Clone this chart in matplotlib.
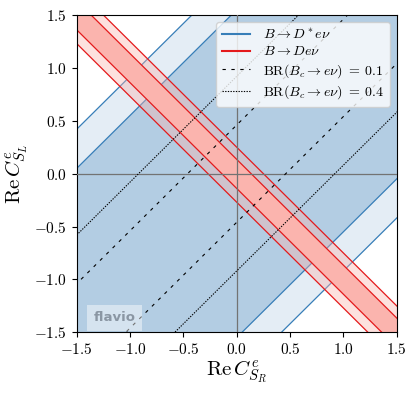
import numpy as np
import matplotlib
matplotlib.use("Agg")
import matplotlib.pyplot as plt
from matplotlib.lines import Line2D

plt.rcParams['font.family'] = 'serif'
plt.rcParams['font.serif'] = ['cmr10']
plt.rcParams['mathtext.fontset'] = 'cm'
plt.rcParams['axes.formatter.use_mathtext'] = True

# band edges
# B -> D* e nu : constraint on C_SL - C_SR
dstar_1sigma = [-1.55, 1.55]
dstar_2sigma = [-1.92, 1.92]
# B -> D e nu : constraint on C_SL + C_SR
d_1sigma = [-0.14, 0.135]
d_2sigma = [-0.27, 0.25]
# BR(Bc -> e nu) contours, value of |C_SL - C_SR|
bc_br = [0.1, 0.4]
bc_diff = [0.46, 0.92]
bc_styles = [(0, (3, 5)), (0, (1.2, 1.2))]

ticks = [-1.5, -1.0, -0.5, 0.0, 0.5, 1.0, 1.5]

blue_line, blue_fill = '#377eb8', '#b3cde3'
red_line, red_fill = '#e41a1c', '#fbb4ae'

fig = plt.figure(figsize=(4.16, 3.93), dpi=100)
ax = fig.add_axes([0.1844, 0.1545, 0.7692, 0.8073])

x = np.linspace(-3.5, 3.5, 701)

# B -> D* e nu (slope +1 band)
ax.fill_between(x, x + dstar_2sigma[0], x + dstar_2sigma[1], color=blue_fill, alpha=0.35, lw=0, zorder=1)
ax.fill_between(x, x + dstar_1sigma[0], x + dstar_1sigma[1], color=blue_fill, lw=0, zorder=1)
for c in dstar_1sigma + dstar_2sigma:
    ax.plot(x, x + c, color=blue_line, lw=0.9, zorder=1.5)

# B -> D e nu (slope -1 band)
ax.fill_between(x, -x + d_2sigma[0], -x + d_2sigma[1], color=red_fill, alpha=0.4, lw=0, zorder=2)
ax.fill_between(x, -x + d_1sigma[0], -x + d_1sigma[1], color=red_fill, lw=0, zorder=2)
for c in d_1sigma + d_2sigma:
    ax.plot(x, -x + c, color=red_line, lw=0.9, zorder=2.5)

ax.axhline(0, color='0.45', lw=0.9, zorder=3)
ax.axvline(0, color='0.45', lw=0.9, zorder=3)

# Bc -> e nu contours
for d, ls in zip(bc_diff, bc_styles):
    for sgn in (1, -1):
        ax.plot(x, x + sgn * d, color='k', lw=0.8, ls=ls, zorder=4)

ax.set_xlim(-1.5, 1.5)
ax.set_ylim(-1.5, 1.5)
ax.set_xticks(ticks)
ax.set_yticks(ticks)
ax.tick_params(labelsize=11)
ax.set_xlabel(r'$\mathrm{Re}\,C_{S_R}^e$', fontsize=15, labelpad=1)
ax.set_ylabel(r'$\mathrm{Re}\,C_{S_L}^e$', fontsize=15, labelpad=3)

handles = [
    Line2D([], [], color=blue_line, lw=1.5),
    Line2D([], [], color=red_line, lw=1.5),
    Line2D([], [], color='k', lw=0.8, ls=bc_styles[0]),
    Line2D([], [], color='k', lw=0.8, ls=bc_styles[1]),
]
labels = [r'$B\to D^*e\nu$', r'$B\to De\nu$',
          r'$\mathrm{BR}(B_c\to e\nu)\;=\;%s$' % bc_br[0],
          r'$\mathrm{BR}(B_c\to e\nu)\;=\;%s$' % bc_br[1]]
leg = ax.legend(handles, labels, loc='upper right', fontsize=10.1,
                labelspacing=0.25, handletextpad=0.9)
leg.set_zorder(10)

ax.text(0.053, 0.025, 'flavio', transform=ax.transAxes, family='DejaVu Sans',
        fontsize=9.5, fontweight='bold', color='#8a96a3', ha='left', va='bottom',
        bbox=dict(boxstyle='square,pad=0.5', facecolor='white', alpha=0.45, edgecolor='none'),
        zorder=6)

fig.savefig('out.png', dpi=100)
